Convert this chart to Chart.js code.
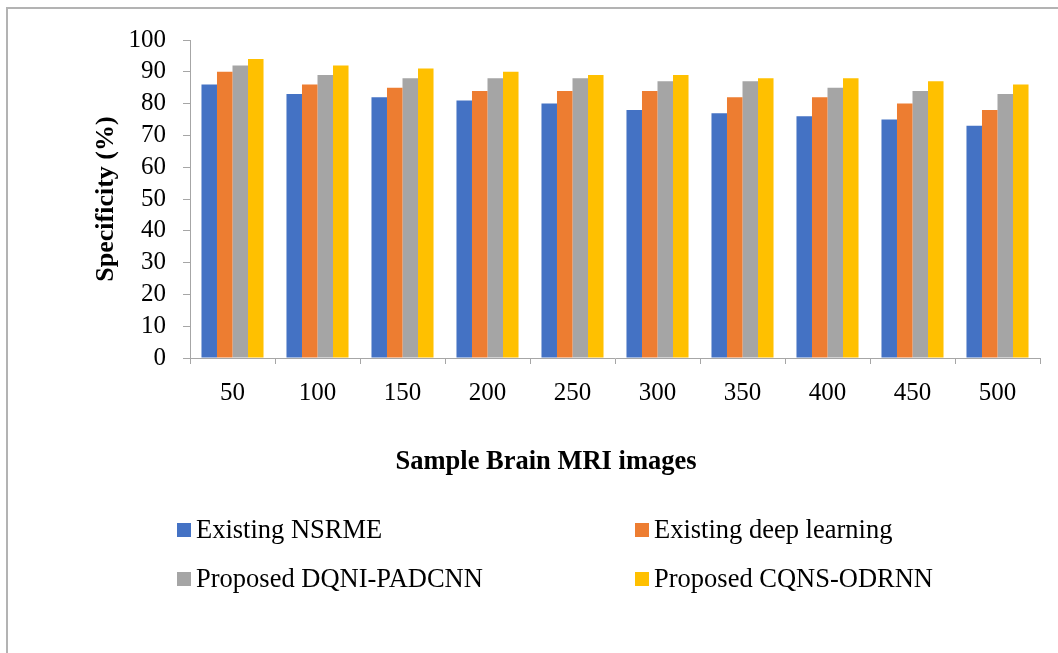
<!DOCTYPE html>
<html>
<head>
<meta charset="utf-8">
<title>Specificity comparison</title>
<script src="https://cdn.jsdelivr.net/npm/chart.js@4/dist/chart.umd.min.js"></script>
<style>
  html, body { margin: 0; padding: 0; background: #ffffff; overflow: hidden; }
  #wrap { position: relative; width: 1058px; height: 653px; }
  #frame {
    position: absolute; left: 6px; top: 7px; width: 2000px; height: 2000px;
    border-left: 2px solid #b3b3b3; border-top: 2px solid #b3b3b3;
  }
  canvas { position: absolute; left: 0; top: 0; }
</style>
</head>
<body>
<div id="wrap">
  <div id="frame"></div>
  <canvas id="chart" width="1058" height="653"></canvas>
</div>
<script>
// Number of sample brain MRI images
const sampleSizes = ['50', '100', '150', '200', '250', '300', '350', '400', '450', '500'];

// Specificity (%) per method
const existingNSRME        = [86, 83, 82, 81, 80, 78, 77, 76, 75, 73];
const existingDeepLearning = [90, 86, 85, 84, 84, 84, 82, 82, 80, 78];
const proposedDQNIPADCNN   = [92, 89, 88, 88, 88, 87, 87, 85, 84, 83];
const proposedCQNSODRNN    = [94, 92, 91, 90, 89, 89, 88, 88, 87, 86];

const seriesNames  = ['Existing NSRME', 'Existing deep learning', 'Proposed DQNI-PADCNN', 'Proposed CQNS-ODRNN'];
const seriesColors = ['#4472C4', '#ED7D31', '#A5A5A5', '#FFC000'];
const seriesValues = [existingNSRME, existingDeepLearning, proposedDQNIPADCNN, proposedCQNSODRNN];

const yTicks = [0, 10, 20, 30, 40, 50, 60, 70, 80, 90, 100];
const xTitle = 'Sample Brain MRI images';

const FONT = "'Liberation Serif', 'Times New Roman', serif";
const AXIS_GREY = '#a6a6a6';

// X-axis title (centred on the whole figure) and the two-column legend beneath it
const figureText = {
  id: 'figureText',
  afterDraw(chart) {
    const ctx = chart.ctx;
    ctx.save();
    ctx.fillStyle = '#000000';
    ctx.textBaseline = 'middle';
    ctx.textAlign = 'center';
    ctx.font = 'bold 26.5px ' + FONT;
    ctx.fillText(xTitle, 546, 462);

    const cols = [177, 635];
    const rows = [530, 579];
    const box = 14;
    ctx.font = '26.5px ' + FONT;
    ctx.textAlign = 'left';
    chart.data.datasets.forEach((ds, i) => {
      const x = cols[i % 2];
      const y = rows[Math.floor(i / 2)];
      ctx.fillStyle = ds.backgroundColor;
      ctx.fillRect(x, y - box / 2, box, box);
      ctx.fillStyle = '#000000';
      ctx.fillText(ds.label, x + box + 5, y + 1);
    });
    ctx.restore();
  }
};

new Chart(document.getElementById('chart'), {
  type: 'bar',
  data: {
    labels: sampleSizes,
    datasets: seriesNames.map((name, i) => ({
      label: name,
      data: seriesValues[i],
      backgroundColor: seriesColors[i],
      borderWidth: 0,
      categoryPercentage: 0.73,
      barPercentage: 1.0
    }))
  },
  plugins: [figureText],
  options: {
    responsive: false,
    animation: false,
    devicePixelRatio: 1,
    layout: { padding: { left: 91, top: 40, right: 18, bottom: 175 } },
    plugins: {
      legend: { display: false },
      tooltip: { enabled: false }
    },
    scales: {
      x: {
        offset: true,
        grid: {
          offset: true,
          drawOnChartArea: false,
          drawTicks: true,
          tickLength: 6,
          color: AXIS_GREY,
          lineWidth: 1
        },
        border: { color: AXIS_GREY, width: 1 },
        ticks: {
          color: '#000000',
          font: { family: FONT, size: 25 },
          padding: 14,
          maxRotation: 0,
          autoSkip: false
        },
        afterFit(scale) { scale.height = 120; }
      },
      y: {
        min: 0,
        max: 100,
        afterBuildTicks(scale) { scale.ticks = yTicks.map(v => ({ value: v })); },
        grid: {
          drawOnChartArea: false,
          drawTicks: true,
          tickLength: 7,
          color: AXIS_GREY,
          lineWidth: 1
        },
        border: { color: AXIS_GREY, width: 1 },
        ticks: {
          color: '#000000',
          font: { family: FONT, size: 25 },
          padding: 17,
          autoSkip: false
        },
        title: {
          display: true,
          text: 'Specificity (%)',
          color: '#000000',
          font: { family: FONT, size: 26, weight: 'bold', lineHeight: 1.2 },
          padding: 0
        },
        afterFit(scale) { scale.width = 99; }
      }
    }
  }
});
</script>
</body>
</html>
